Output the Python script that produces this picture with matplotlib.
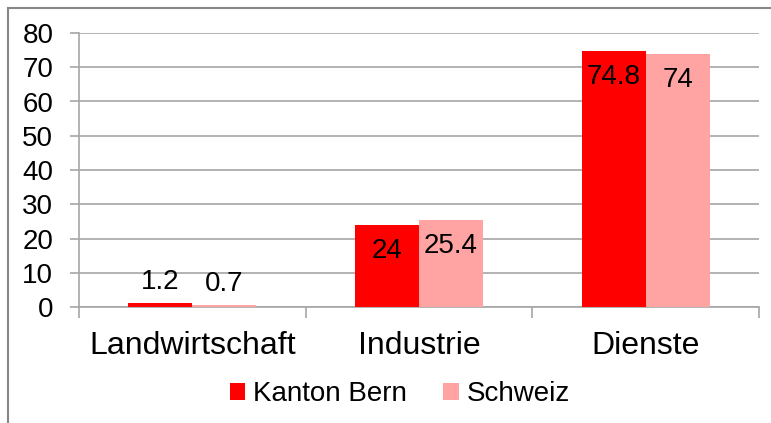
import matplotlib.pyplot as plt
import matplotlib.patches as mpatches
import numpy as np

categories = ["Landwirtschaft", "Industrie", "Dienste"]
series_names = ["Kanton Bern", "Schweiz"]
kanton_bern = [1.2, 24, 74.8]
schweiz = [0.7, 25.4, 74]
labels_kb = ["1.2", "24", "74.8"]
labels_ch = ["0.7", "25.4", "74"]

plt.rcParams["font.family"] = ["Liberation Sans", "DejaVu Sans"]

W, H = 771, 423
fig = plt.figure(figsize=(W / 100, H / 100), dpi=100)
ax = fig.add_axes([79 / W, 1 - 307 / H, (759 - 79) / W, (307 - 33) / H])

# grey frame round the chart (right/bottom edges fall outside the picture)
fig.patches.append(mpatches.Rectangle((8 / W, -0.1), 1.2, 1 - 8 / H + 0.1,
                                      transform=fig.transFigure, fill=False,
                                      edgecolor="#868686", linewidth=1.5))

x = np.arange(len(categories))
w = 0.283
colors = ["#ff0000", "#ffa3a3"]
b1 = ax.bar(x - w / 2, kanton_bern, w, color=colors[0], label=series_names[0], zorder=3)
b2 = ax.bar(x + w / 2, schweiz, w, color=colors[1], label=series_names[1], zorder=3)

for bars, labs in ((b1, labels_kb), (b2, labels_ch)):
    for rect, lab in zip(bars, labs):
        h = rect.get_height()
        off = 15 if h < 10 else -19
        ax.annotate(lab, (rect.get_x() + rect.get_width() / 2, h),
                    xytext=(0, off), textcoords="offset points",
                    ha="center", va="center", fontsize=20, zorder=4)

ax.set_xlim(-0.5, 2.5)
ax.set_ylim(0, 80)
ax.set_yticks(range(0, 81, 10))
ax.yaxis.grid(True, color="#a6a6a6", linewidth=1.2, zorder=0)
ax.set_xticks([-0.5, 0.5, 1.5, 2.5])
ax.set_xticklabels([])
ax.set_xticks(x, minor=True)
ax.set_xticklabels(categories, minor=True, fontsize=23)
ax.tick_params(axis="x", which="minor", length=0, pad=17)
ax.tick_params(axis="x", which="major", length=8, color="#a6a6a6", width=1.2)
ax.tick_params(axis="y", length=6.5, color="#a6a6a6", width=1.2, labelsize=20, pad=12)

for s in ("top", "right"):
    ax.spines[s].set_visible(False)
for s in ("left", "bottom"):
    ax.spines[s].set_color("#a6a6a6")
    ax.spines[s].set_linewidth(1.2)

fig.legend(handles=[b1, b2], loc="center", bbox_to_anchor=(400 / W, 1 - 394 / H),
           ncol=2, frameon=False, fontsize=20, handlelength=0.55, handleheight=0.55,
           handletextpad=0.3, columnspacing=1.3)

fig.savefig("out.png", dpi=100)
